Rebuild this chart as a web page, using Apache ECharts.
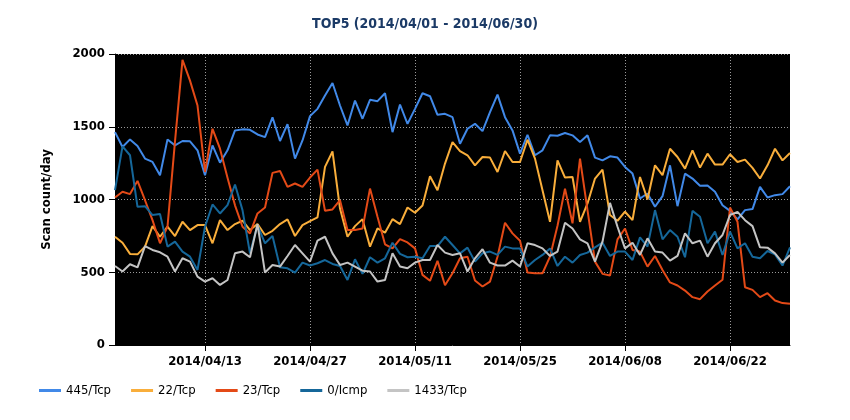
<!DOCTYPE html>
<html>
<head>
<meta charset="utf-8">
<script src="https://cdn.jsdelivr.net/npm/echarts@6/dist/echarts.min.js"></script>
<style>
  html, body { margin: 0; padding: 0; background: #fff; }
  #chart { width: 850px; height: 420px; }
</style>
</head>
<body>
<div id="chart"></div>
<script>
// days 2014/04/01 .. 2014/06/30
var categories = [];
(function () {
    var d = new Date(2014, 3, 1);
    while (d <= new Date(2014, 5, 30)) {
        var m = ('0' + (d.getMonth() + 1)).slice(-2);
        var dd = ('0' + d.getDate()).slice(-2);
        categories.push(d.getFullYear() + '/' + m + '/' + dd);
        d.setDate(d.getDate() + 1);
    }
})();

var seriesNames = ['445/Tcp', '22/Tcp', '23/Tcp', '0/Icmp', '1433/Tcp'];
var seriesColors = ['#4189e8', '#f9ae3b', '#e44a17', '#15679a', '#c4c4c4'];

var tcp445 = [1463, 1361, 1413, 1368, 1281, 1258, 1167, 1413, 1372, 1402, 1400, 1338, 1167, 1372, 1253, 1338,
    1475, 1482, 1479, 1447, 1429, 1565, 1402, 1518, 1281, 1406, 1573, 1623, 1715, 1801,
    1646, 1509, 1680, 1555, 1685, 1676, 1730, 1463, 1653, 1520, 1623, 1730, 1710, 1582, 1589, 1566,
    1383, 1486, 1520, 1470, 1600, 1721, 1566, 1475, 1315, 1445, 1304, 1338, 1441, 1438, 1457,
    1441, 1395, 1441, 1288, 1269, 1297, 1288, 1224, 1178, 1007, 1041, 950, 1023, 1235, 954, 1178,
    1144, 1094, 1096, 1053, 961, 922, 863, 927, 934, 1087, 1014, 1030, 1037, 1091];

var tcp22 = [744, 703, 626, 623, 676, 817, 744, 813, 749, 847, 790, 824, 824, 699, 858, 790,
    831, 854, 790, 831, 756, 785, 831, 863, 749, 824, 852, 877, 1224, 1330,
    938, 744, 817, 865, 676, 801, 772, 865, 831, 945, 909, 959, 1160, 1064, 1247, 1395,
    1333, 1304, 1235, 1292, 1288, 1189, 1333, 1258, 1258, 1411, 1281, 1064, 847, 1269, 1151,
    1155, 847, 973, 1144, 1205, 893, 854, 916, 858, 1155, 1000, 1235, 1167, 1349, 1292, 1212,
    1338, 1219, 1315, 1240, 1240, 1311, 1258, 1274, 1217, 1144, 1235, 1349, 1269, 1320];

var tcp23 = [1014, 1053, 1037, 1128, 995, 858, 699, 813, 1400, 1959, 1817, 1646, 1189, 1486, 1349, 1150,
    960, 813, 767, 904, 945, 1183, 1196, 1087, 1110, 1087, 1151, 1205, 922, 932, 995,
    790, 790, 801, 1075, 881, 692, 664, 728, 705, 664, 482, 441, 578, 411, 493,
    596, 607, 443, 402, 436, 607, 840, 767, 717, 498, 493, 493, 607, 820, 1075,
    836, 1281, 927, 573, 489, 477, 726, 801, 653, 642, 539, 612, 516, 430, 409, 374,
    329, 315, 368, 409, 448, 945, 847, 397, 379, 329, 356, 306, 288, 283];

var icmp0 = [1064, 1365, 1304, 950, 954, 893, 900, 676, 710, 642, 607, 516, 813, 966, 904, 961,
    1103, 927, 630, 824, 699, 749, 534, 527, 498, 566, 546, 562, 584, 557, 543,
    447, 589, 489, 603, 566, 596, 703, 626, 603, 607, 596, 680, 680, 744, 687,
    630, 669, 573, 630, 642, 619, 676, 664, 664, 539, 584, 619, 664, 543, 607,
    566, 619, 635, 671, 703, 612, 642, 642, 584, 740, 676, 927, 726, 790, 744, 603,
    922, 881, 699, 779, 619, 779, 664, 699, 607, 596, 646, 623, 546, 671];

var tcp1433 = [543, 505, 555, 534, 680, 653, 637, 607, 505, 596, 573, 470, 436, 459, 413, 447,
    630, 642, 603, 831, 498, 550, 539, 612, 687, 630, 573, 717, 744, 630, 550,
    566, 539, 511, 505, 436, 447, 630, 539, 527, 566, 584, 584, 687, 635, 619,
    630, 505, 596, 658, 566, 546, 546, 580, 539, 699, 687, 664, 612, 642, 840,
    801, 726, 699, 573, 710, 977, 813, 664, 703, 619, 733, 642, 635, 580, 612, 767,
    699, 717, 607, 699, 756, 893, 915, 858, 817, 671, 669, 630, 566, 619];

var seriesData = [tcp445, tcp22, tcp23, icmp0, tcp1433];

// x labels every 14 days, first one on 2014/04/13
var firstTick = 12, tickStep = 14;
function isTick(idx) {
    return idx >= firstTick && (idx - firstTick) % tickStep === 0;
}

var font = 'DejaVu Sans Condensed';
var myChart = echarts.init(document.getElementById('chart'));

var option = {
    backgroundColor: '#fff',
    animation: false,
    textStyle: { fontFamily: font },

    title: {
        text: 'TOP5 (2014/04/01 - 2014/06/30)',
        left: 'center',
        top: 12,
        textStyle: { color: '#1b3a66', fontSize: 14, fontWeight: 'bold', fontFamily: font }
    },

    grid: {
        left: 115,
        right: 60,
        top: 54,
        bottom: 75,
        show: true,
        backgroundColor: '#000',
        borderWidth: 0
    },

    legend: {
        data: seriesNames,
        left: 34,
        bottom: 18,
        icon: 'rect',
        itemWidth: 22,
        itemHeight: 3,
        itemGap: 20,
        textStyle: { color: '#000', fontSize: 13, fontFamily: font }
    },

    xAxis: {
        type: 'category',
        boundaryGap: false,
        data: categories,
        axisLine: { lineStyle: { color: '#000', width: 1 } },
        axisTick: { show: true, interval: function (i) { return isTick(i); }, length: 6, lineStyle: { color: '#000' } },
        axisLabel: {
            interval: function (i) { return isTick(i); },
            color: '#000',
            fontWeight: 'bold',
            fontSize: 13,
            margin: 10
        },
        splitLine: {
            show: true,
            interval: function (i) { return isTick(i); },
            lineStyle: { color: '#9a9a9a', type: [1, 2], width: 1 }
        }
    },

    yAxis: {
        type: 'value',
        min: 0,
        max: 2000,
        interval: 500,
        name: 'Scan count/day',
        nameLocation: 'middle',
        nameGap: 62,
        nameTextStyle: { color: '#000', fontWeight: 'bold', fontSize: 13, fontFamily: font },
        axisLine: { show: true, lineStyle: { color: '#000', width: 1 } },
        axisTick: { show: true, length: 6, lineStyle: { color: '#000' } },
        axisLabel: {
            color: '#000', fontWeight: 'bold', fontSize: 13, margin: 10,
            formatter: function (v) { return String(v); }
        },
        splitLine: { show: true, lineStyle: { color: '#9a9a9a', type: [1, 2], width: 1 } }
    },

    series: seriesNames.map(function (name, k) {
        return {
            name: name,
            type: 'line',
            data: seriesData[k],
            showSymbol: false,
            symbol: 'none',
            color: seriesColors[k],
            lineStyle: { width: 2, color: seriesColors[k] }
        };
    })
};

myChart.setOption(option);
</script>
</body>
</html>
